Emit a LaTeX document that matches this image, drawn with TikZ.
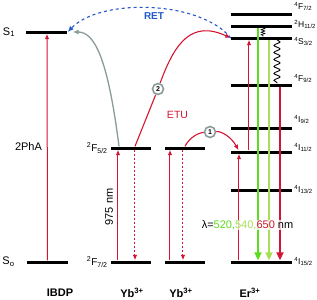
\documentclass[tikz,border=0pt]{standalone}
\usepackage{fontspec}
\setmainfont{Liberation Sans}
\usetikzlibrary{positioning,arrows.meta,decorations.pathmorphing}
\definecolor{redC}{HTML}{D41432}
\definecolor{greenA}{HTML}{5CDC1E}
\definecolor{greenB}{HTML}{A6E052}
\definecolor{blueC}{HTML}{2458C8}
\definecolor{grayC}{HTML}{8A9B9B}
\newcommand{\lvlterm}[3]{\textsuperscript{#1}#2\textsubscript{#3}}
\tikzset{
  lvl/.style={fill=black, inner sep=0pt, minimum height=3pt},
  lbl/.style={font=\fontsize{11}{12}\selectfont, inner sep=1pt},
  elbl/.style={font=\fontsize{8.5}{10}\selectfont, anchor=base west, inner sep=0.5pt},
  ion/.style={font=\bfseries\fontsize{11}{12}\selectfont},
  pump/.style={-{Latex[length=5.5pt,width=4.5pt]}, draw=redC, line width=1pt},
  relax/.style={pump, dash pattern=on 2.5pt off 1.5pt},
  emit/.style={-{Triangle[length=8pt,width=7pt]}, line width=2.6pt},
  etu/.style={draw=redC, line width=1.1pt},
  back/.style={-{Latex[length=6pt,width=5pt]}, draw=grayC, line width=1.3pt},
  ret/.style={-{Latex[length=6pt,width=5pt]}, draw=blueC, dashed, line width=1.1pt},
  wave/.style={decorate, decoration={snake, amplitude=3pt, segment length=7pt}, line width=0.9pt},
  num/.style={circle, draw=grayC, line width=1.6pt, fill=white, font=\scriptsize\bfseries,
              inner sep=0.5pt, minimum size=11pt},
}

\begin{document}
\begin{tikzpicture}[x=1pt, y=-1pt]
\useasboundingbox (0,0) rectangle (317,300);

% IBDP levels
\node[lvl, minimum width=41pt] (S1) at (47,32) {};
\node[lvl, minimum width=41pt] (S0) at (47.5,262) {};
\node[lbl, anchor=east] at ([xshift=-10pt]S1.west) {S\textsubscript{1}};
\node[lbl, anchor=east] at ([xshift=-11pt]S0.west) {S\textsubscript{o}};

% Yb levels
\node[lvl, minimum width=40pt] (Yb1e) at (131,148) {};
\node[lvl, minimum width=40pt] (Yb1g) at (131,262) {};
\node[lvl, minimum width=40pt] (Yb2e) at (185,148) {};
\node[lvl, minimum width=40pt] (Yb2g) at (185,262) {};
\node[lbl, anchor=east, font=\fontsize{10}{12}\selectfont] at ([xshift=-2pt]Yb1e.west) {\lvlterm{2}{F}{5/2}};
\node[lbl, anchor=east, font=\fontsize{10}{12}\selectfont] at ([xshift=-2pt]Yb1g.west) {\lvlterm{2}{F}{7/2}};

% Er levels with their terms
\foreach \n/\y/\s/\L/\j/\b in {F72/14/4/F/{7/2}/5, H112/26/2/H/{11/2}/-1, S32/38/4/S/{3/2}/-6,
    F92/85/4/F/{9/2}/4, I92/128/4/I/{9/2}/6, I112/152/4/I/{11/2}/2,
    I132/190/4/I/{13/2}/-2, I152/262/4/I/{15/2}/-2} {
  \node[lvl, minimum width=61pt] (\n) at (261.5,\y) {};
  \node[elbl] at ([xshift=1.5pt, yshift=\b pt]\n.east) {\lvlterm{\s}{\L}{\j}};
}

% excitation and relaxation
\draw[pump] (S0.north) -- (S1.south);
\node[lbl] (pha) at (28.5,147) {2PhA};
\draw[pump] ([xshift=-13pt]Yb1g.north) -- ([xshift=-13pt]Yb1e.south);
\draw[relax] ([xshift=4pt]Yb1e.south) -- ([xshift=4pt]Yb1g.north);
\draw[pump] ([xshift=-15pt]Yb2g.north) -- ([xshift=-15pt]Yb2e.south);
\draw[relax] ([xshift=-2pt]Yb2e.south) -- ([xshift=-2pt]Yb2g.north);
\node[lbl, rotate=90] (nm) at (109,207) {975 nm};
\draw[pump] ([xshift=-22.5pt]I152.north) -- ([xshift=-22.5pt]I112.south);
\draw[pump] ([xshift=-12.5pt]I112.north) -- ([xshift=-12.5pt]S32.south);

% emission
\draw[emit, greenA] ([xshift=-3.5pt]H112.south) -- ([xshift=-3.5pt]I152.north);
\draw[emit, greenB] ([xshift=7.5pt]S32.south) -- ([xshift=7.5pt]I152.north);
\draw[emit, redC] ([xshift=18.5pt]F92.south) -- ([xshift=18.5pt]I152.north);
\draw[wave] ([xshift=15.5pt]S32.south) -- ([xshift=15.5pt]F92.north);
\draw[wave, decoration={amplitude=2pt, segment length=2.5pt}, line width=0.6pt]
  ([xshift=1.5pt]H112.south) -- ([xshift=1.5pt]S32.north);
\node[font=\fontsize{11}{12}\selectfont, fill=white, fill opacity=0.75, text opacity=1, inner sep=0.5pt]
  (lam) at (247.5,225) {λ=\textcolor{greenA}{520,}\textcolor{greenB}{540,}\textcolor{redC}{650} nm};

% energy transfer
\node[num] (c2) at (158,89) {2};
\node[num] (c1) at (210,132) {1};
\draw[etu] ([xshift=4pt]Yb1e.north) -- (c2);
\draw[etu, -{Latex[length=5.5pt,width=4.5pt]}] (c2) .. controls (175,42) and (192,20) .. (S32.west);
\draw[etu] (Yb2e.north) .. controls (188,140) and (196,133) .. (c1);
\draw[etu, -{Latex[length=5.5pt,width=4.5pt]}] (c1) .. controls (222,131) and (232,138) .. ([xshift=-23pt]I112.north);
\node[text=redC, font=\fontsize{10.5}{12}\selectfont] (etu) at (177.5,114.5) {ETU};
\draw[back] ([xshift=-12pt]Yb1e.north) .. controls (108,60) and (95,32) .. ([xshift=5pt]S1.east);
\draw[ret] (S32.west) .. controls (200,0) and (100,-2) .. (S1.east);
\node[text=blueC, font=\bfseries\fontsize{10}{12}\selectfont] (retl) at (154,16) {RET};

% ion names
\node[ion] (ibdp) at (60,293) {IBDP};
\node[ion] (yba) at (132,293) {Yb\textsuperscript{3+}};
\node[ion] (ybb) at (181,293) {Yb\textsuperscript{3+}};
\node[ion] (er) at (250,293) {Er\textsuperscript{3+}};
\end{tikzpicture}
\end{document}
